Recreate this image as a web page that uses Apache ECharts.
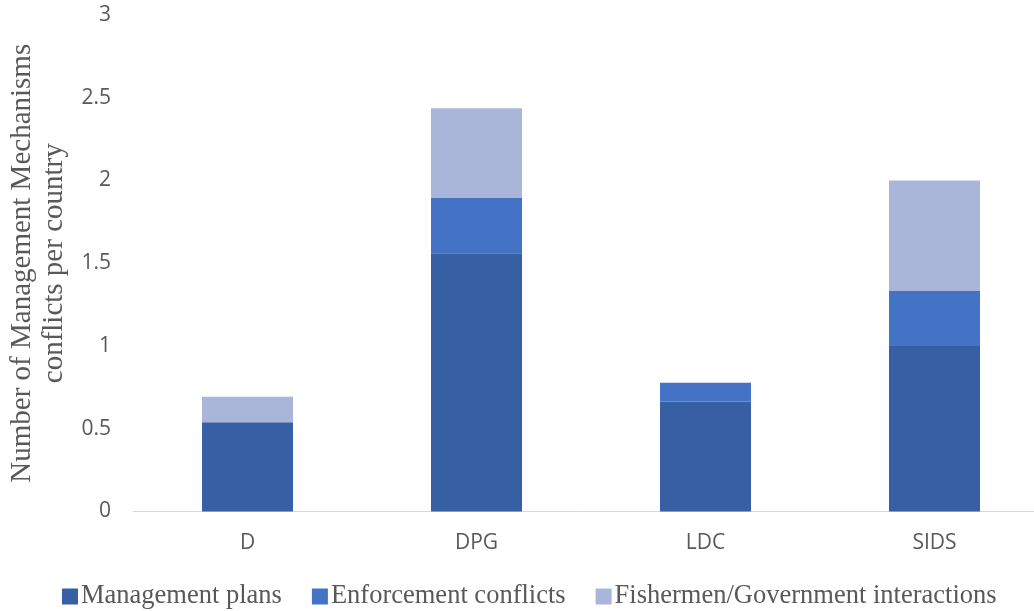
<!DOCTYPE html>
<html><head><meta charset="utf-8">
<script src="https://cdn.jsdelivr.net/npm/echarts@6/dist/echarts.min.js"></script>
<style>html,body{margin:0;padding:0;background:#fff}#c{width:1034px;height:611px}</style>
</head><body><div id="c"></div>
<script>
const categories = ['D', 'DPG', 'LDC', 'SIDS'];
const managementPlans = [0.539, 1.56, 0.665, 1.0];
const enforcementConflicts = [0, 0.337, 0.113, 0.333];
const fishermenGov = [0.155, 0.54, 0, 0.667];
const seriesNames = ['Management plans', 'Enforcement conflicts', 'Fishermen/Government interactions'];
const yTicks = [0, 0.5, 1, 1.5, 2, 2.5, 3];

const chart = echarts.init(document.getElementById('c'));
const mk = (name, data, color) => ({
  name, type: 'bar', stack: 'a', data, barWidth: 91,
  itemStyle: { color }, emphasis: { disabled: true }
});
chart.setOption({
  animation: false,
  grid: { left: 133, right: -15, top: 15, bottom: 99.5, containLabel: false, outerBoundsMode: 'none' },
  legend: {
    top: 578, left: 57, itemWidth: 16, itemHeight: 16, itemGap: 30, icon: 'rect',
    textStyle: { fontFamily: 'Liberation Serif', fontSize: 26.5, color: '#595959', padding: [0, 0, 0, -2] },
    data: seriesNames
  },
  xAxis: {
    type: 'category', data: categories,
    axisLine: { lineStyle: { color: '#D9D9D9', width: 1 } },
    axisTick: { show: false },
    axisLabel: { fontFamily: 'Open Sans', fontSize: 21, color: '#595959', margin: 21 }
  },
  yAxis: {
    type: 'value', min: yTicks[0], max: yTicks[yTicks.length - 1], interval: 0.5,
    name: 'Number of Management Mechanisms\nconflicts per country',
    nameLocation: 'middle', nameGap: 60,
    nameTextStyle: { fontFamily: 'Liberation Serif', fontSize: 29, color: '#595959', lineHeight: 32 },
    splitLine: { show: false }, axisLine: { show: false }, axisTick: { show: false },
    axisLabel: { fontFamily: 'Open Sans', fontSize: 21, color: '#595959', margin: 22 }
  },
  series: [
    mk(seriesNames[0], managementPlans, '#375FA3'),
    mk(seriesNames[1], enforcementConflicts, '#4472C4'),
    mk(seriesNames[2], fishermenGov, '#A9B6DA')
  ]
});
</script></body></html>
